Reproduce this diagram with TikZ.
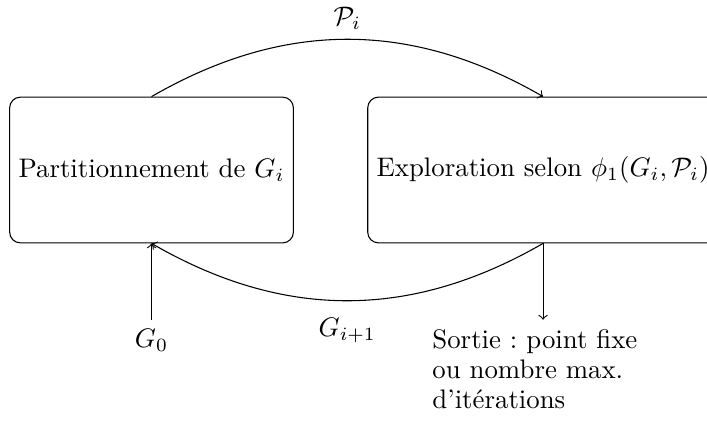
\documentclass[tikz,border=0pt]{standalone}
\usepackage{amsmath,amssymb}
\usetikzlibrary{positioning}

\begin{document}
\begin{tikzpicture}[etape/.style={draw,rounded corners,minimum height=1.91cm},
    fleche/.style={->}]
        \useasboundingbox (-1.986,2.228) rectangle (7.28,-3.29);
        \node[etape] (part) at (0,0) {Partitionnement de $G_i$};
        \node[etape,right=0.96cm of part] (explo) {Exploration selon $\phi_1(G_i,\mathcal{P}_i)$};
        \node[below=1cm of part] (init) {$G_0$};
        \node[below=1cm of explo,text width=2.9cm,align=left,
          font=\fontsize{10}{11.2}\selectfont] (sortie)
          {Sortie :\ point fixe ou nombre max. d'itérations};
        \draw[fleche] (part.north) to[bend left=30] node[above]{$\mathcal{P}_i$} (explo.north);
        \draw[fleche] (explo.south) to[bend left=30] node[below=3pt]{$G_{i+1}$} (part.south);
        \draw[fleche] (init) -- (part.south);
        \draw[fleche] (explo.south) -- (sortie);
      \end{tikzpicture}
\end{document}
